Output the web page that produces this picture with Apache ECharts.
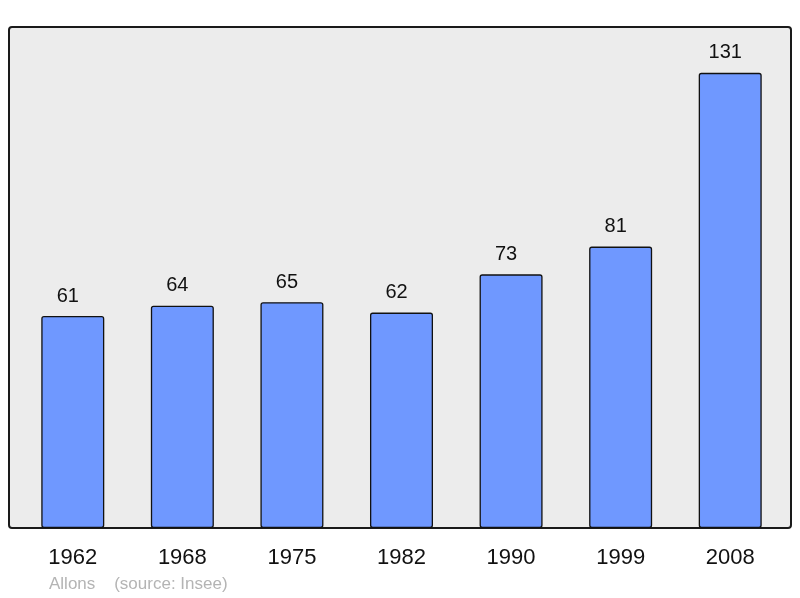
<!DOCTYPE html>
<html>
<head>
<meta charset="utf-8">
<script src="https://cdn.jsdelivr.net/npm/echarts@6/dist/echarts.min.js"></script>
<style>
  html, body { margin: 0; padding: 0; background: #fff; }
  #chart { width: 800px; height: 598px; }
</style>
</head>
<body>
<div id="chart"></div>
<script>
// population by census year
const years = ['1962', '1968', '1975', '1982', '1990', '1999', '2008'];
const population = [61, 64, 65, 62, 73, 81, 131];
const caption = 'Allons    (source: Insee)';

const chart = echarts.init(document.getElementById('chart'));

chart.setOption({
  animation: false,
  textStyle: { fontFamily: 'Liberation Sans, Arial, sans-serif' },
  grid: { left: 18, right: 15, top: 27, bottom: 70 },
  // frame behind the bars
  graphic: [
    {
      type: 'rect',
      z: -10,
      shape: { x: 9, y: 27, width: 782, height: 501, r: 3 },
      style: { fill: '#ececec', stroke: '#1a1a1a', lineWidth: 2 }
    },
    {
      type: 'text',
      left: 49,
      top: 576,
      style: { text: caption, fill: '#b4b4b4', font: '17px Liberation Sans, Arial, sans-serif' }
    }
  ],
  xAxis: {
    type: 'category',
    data: years,
    axisLine: { show: false },
    axisTick: { show: false },
    axisLabel: { color: '#111', fontSize: 22, margin: 19 }
  },
  yAxis: {
    type: 'value',
    min: 0,
    max: 144.2,
    show: false,
    splitLine: { show: false }
  },
  series: [
    {
      type: 'bar',
      data: population,
      barWidth: '57.5%',
      itemStyle: {
        color: '#6f98ff',
        borderColor: '#111',
        borderWidth: 1.3,
        borderRadius: 2
      },
      label: {
        show: true,
        position: 'top',
        distance: 10,
        offset: [-5, 0],
        color: '#111',
        fontSize: 20
      }
    }
  ]
});
</script>
</body>
</html>
